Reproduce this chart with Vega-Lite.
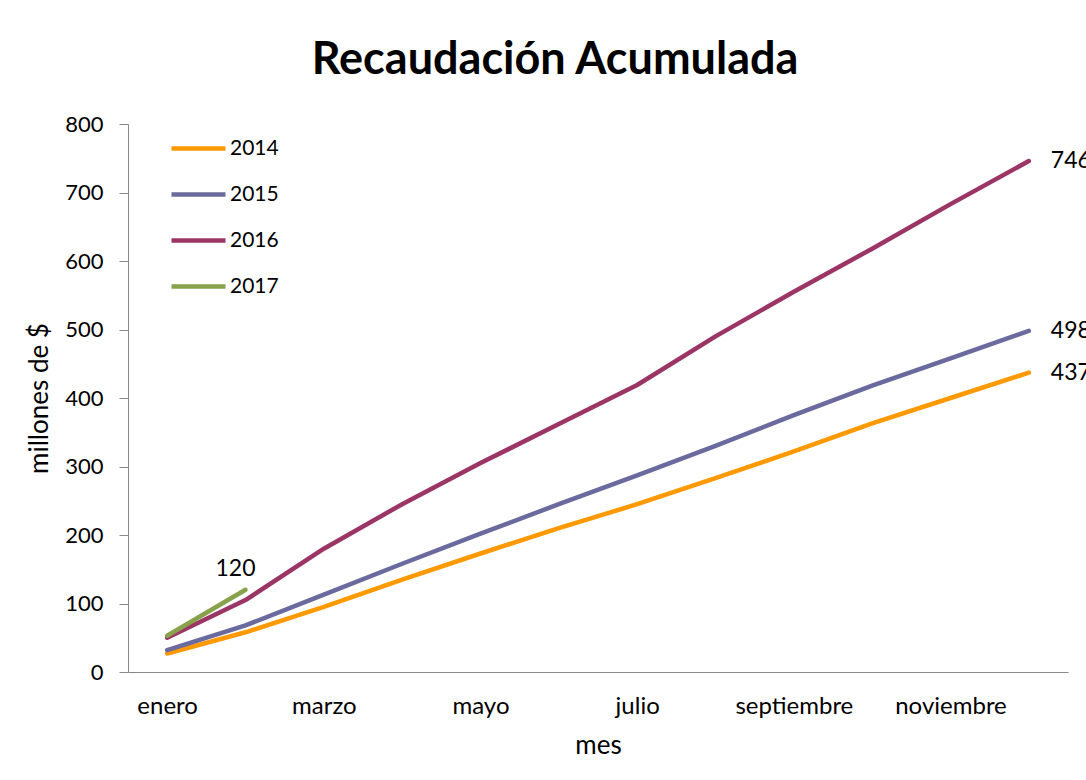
{
  "$schema": "https://vega.github.io/schema/vega-lite/v6.json",
  "width": 940,
  "height": 548,
  "autosize": {"type": "none"},
  "padding": {"left": 128, "top": 124, "right": 18, "bottom": 108},
  "background": "white",
  "title": {"text": "Recaudación Acumulada", "fontSize": 45, "font": "Lato", "fontWeight": "bold", "color": "black", "anchor": "middle", "dx": -43, "dy": 50, "offset": 44, "baseline": "alphabetic"},
  "config": {
    "font": "Lato",
    "view": {"stroke": null},
    "axis": {"grid": false, "domainColor": "#888888", "tickColor": "#888888", "titleFontWeight": "normal", "labelColor": "black", "titleColor": "black", "labelFont": "Lato", "titleFont": "Lato"}
  },
  "data": {"values": [
    {"mes": "enero", "year": "2014", "value": 27},
    {"mes": "febrero", "year": "2014", "value": 58},
    {"mes": "marzo", "year": "2014", "value": 95},
    {"mes": "abril", "year": "2014", "value": 135},
    {"mes": "mayo", "year": "2014", "value": 173},
    {"mes": "junio", "year": "2014", "value": 210},
    {"mes": "julio", "year": "2014", "value": 245},
    {"mes": "agosto", "year": "2014", "value": 283},
    {"mes": "septiembre", "year": "2014", "value": 322},
    {"mes": "octubre", "year": "2014", "value": 363},
    {"mes": "noviembre", "year": "2014", "value": 400},
    {"mes": "diciembre", "year": "2014", "value": 437},
    {"mes": "enero", "year": "2015", "value": 32},
    {"mes": "febrero", "year": "2015", "value": 68},
    {"mes": "marzo", "year": "2015", "value": 113},
    {"mes": "abril", "year": "2015", "value": 158},
    {"mes": "mayo", "year": "2015", "value": 202},
    {"mes": "junio", "year": "2015", "value": 245},
    {"mes": "julio", "year": "2015", "value": 287},
    {"mes": "agosto", "year": "2015", "value": 330},
    {"mes": "septiembre", "year": "2015", "value": 375},
    {"mes": "octubre", "year": "2015", "value": 418},
    {"mes": "noviembre", "year": "2015", "value": 458},
    {"mes": "diciembre", "year": "2015", "value": 498},
    {"mes": "enero", "year": "2016", "value": 50},
    {"mes": "febrero", "year": "2016", "value": 105},
    {"mes": "marzo", "year": "2016", "value": 180},
    {"mes": "abril", "year": "2016", "value": 245},
    {"mes": "mayo", "year": "2016", "value": 305},
    {"mes": "junio", "year": "2016", "value": 362},
    {"mes": "julio", "year": "2016", "value": 419},
    {"mes": "agosto", "year": "2016", "value": 490},
    {"mes": "septiembre", "year": "2016", "value": 555},
    {"mes": "octubre", "year": "2016", "value": 618},
    {"mes": "noviembre", "year": "2016", "value": 683},
    {"mes": "diciembre", "year": "2016", "value": 746},
    {"mes": "enero", "year": "2017", "value": 53},
    {"mes": "febrero", "year": "2017", "value": 120}
  ]},
  "encoding": {
    "x": {"field": "mes", "type": "ordinal",
      "scale": {"domain": ["enero","febrero","marzo","abril","mayo","junio","julio","agosto","septiembre","octubre","noviembre","diciembre"]},
      "axis": {"title": "mes", "values": ["enero","marzo","mayo","julio","septiembre","noviembre"], "ticks": false, "tickSize": 0, "labelAngle": 0, "labelFontSize": 24, "titleFontSize": 26, "labelPadding": 22, "titlePadding": 14}},
    "y": {"field": "value", "type": "quantitative", "scale": {"domain": [0, 800], "nice": false},
      "axis": {"title": "millones de $", "values": [0,100,200,300,400,500,600,700,800], "tickSize": 9, "labelFontSize": 22, "titleFontSize": 26, "labelPadding": 16, "titlePadding": 12}}
  },
  "layer": [
    {
      "mark": {"type": "line", "strokeWidth": 4.5, "strokeCap": "round", "strokeJoin": "round"},
      "encoding": {
        "color": {"field": "year", "type": "nominal",
          "scale": {"domain": ["2014","2015","2016","2017"], "range": ["#FF9900","#6A6A9E","#9A3566","#87A24A"]},
          "legend": {"title": null, "orient": "none", "legendX": 41, "legendY": -5, "symbolType": "stroke", "symbolSize": 2916, "symbolStrokeWidth": 4.5, "labelFontSize": 21, "labelColor": "black", "labelFont": "Lato", "rowPadding": 6, "labelOffset": 2}}
      }
    },
    {
      "transform": [{"filter": "datum.mes == 'diciembre'"}],
      "mark": {"type": "text", "align": "left", "dx": 22, "fontSize": 23, "color": "black"},
      "encoding": {"text": {"field": "value", "type": "quantitative"}}
    },
    {
      "transform": [{"filter": "datum.year == '2017' && datum.mes == 'febrero'"}],
      "mark": {"type": "text", "align": "center", "dy": -21, "dx": -10, "fontSize": 23, "color": "black"},
      "encoding": {"text": {"field": "value", "type": "quantitative"}}
    }
  ]
}
